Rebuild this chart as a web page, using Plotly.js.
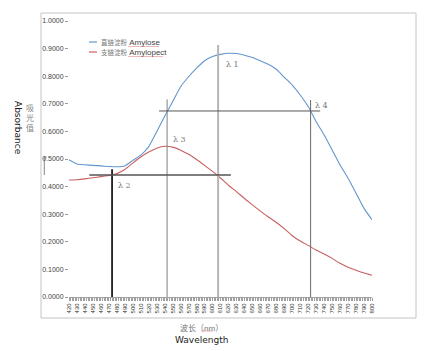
<!DOCTYPE html>
<html><head><meta charset="utf-8">
<script src="https://cdn.plot.ly/plotly-3.0.1.min.js"></script>
<style>html,body{margin:0;padding:0;background:#fff}</style>
</head><body>
<div id="chart" style="width:444px;height:351px"></div>
<script>
const wavelengths = [420,430,440,450,460,470,480,490,500,510,520,530,540,550,560,570,580,590,600,610,620,630,640,650,660,670,680,690,700,710,720,730,740,750,760,770,780,790,800];
const amylose = [0.497,0.482,0.479,0.477,0.475,0.473,0.472,0.475,0.495,0.514,0.545,0.599,0.655,0.708,0.762,0.798,0.829,0.856,0.871,0.879,0.883,0.882,0.876,0.868,0.856,0.843,0.825,0.796,0.768,0.732,0.690,0.635,0.587,0.533,0.478,0.430,0.376,0.321,0.280];
const amylopect = [0.424,0.425,0.428,0.432,0.436,0.440,0.447,0.462,0.485,0.507,0.525,0.539,0.546,0.543,0.532,0.517,0.498,0.477,0.455,0.431,0.405,0.382,0.357,0.334,0.311,0.290,0.270,0.248,0.222,0.203,0.187,0.170,0.156,0.140,0.122,0.108,0.097,0.087,0.079];
const seriesNames = ["直链淀粉 Amylose", "支链淀粉 Amylopect"];
const yTicks = [0,0.1,0.2,0.3,0.4,0.5,0.6,0.7,0.8,0.9,1.0];
// marker lines (lambda points)
const lambdaLabels = ["λ 1","λ 2","λ 3","λ 4"];
const lambdaWl = [607, 474, 543, 723];
const lambdaTop = [0.913, 0.463, 0.716, 0.714];
const hLineY = [0.442, 0.674];
const hLineFrom = [445.5, 533];
const hLineTo = [623, 735];

const L = 69, R = 372, T = 21, B = 297;
const px = p => (p - L) / (R - L);
const py = p => (B - p) / (B - T);

const traces = [
  {x: wavelengths, y: amylose, name: seriesNames[0], mode: 'lines', line: {color: '#6396cc', width: 1.1, shape: 'spline', smoothing: 0.5}, showlegend: false, hoverinfo: 'skip'},
  {x: wavelengths, y: amylopect, name: seriesNames[1], mode: 'lines', line: {color: '#c95f5f', width: 1.1, shape: 'spline', smoothing: 0.5}, showlegend: false, hoverinfo: 'skip'}
];

const vColors = ['#b5b5b5', '#000000', '#808080', '#6a6a6a'];
const vWidths = [2, 1.6, 1, 1];
const shapes = [];
// outer border
shapes.push({type:'rect', xref:'paper', yref:'paper', x0:px(41), x1:px(416), y0:py(318), y1:py(13), line:{color:'#c4c4c4', width:1}, layer:'below'});
for (let i = 0; i < lambdaWl.length; i++) {
  shapes.push({type:'line', xref:'x', yref:'y', x0:lambdaWl[i], x1:lambdaWl[i], y0:0, y1:lambdaTop[i], line:{color:vColors[i], width:vWidths[i]}});
}
const hColors = ['#555555', '#555555'];
const hWidths = [1.5, 1];
for (let i = 0; i < hLineY.length; i++) {
  shapes.push({type:'line', xref:'x', yref:'y', x0:hLineFrom[i], x1:hLineTo[i], y0:hLineY[i], y1:hLineY[i], line:{color:hColors[i], width:hWidths[i]}});
}
// legend sample lines
shapes.push({type:'line', xref:'paper', yref:'paper', x0:px(89), x1:px(97), y0:py(42), y1:py(42), line:{color:'#6396cc', width:1.2}});
shapes.push({type:'line', xref:'paper', yref:'paper', x0:px(89), x1:px(97), y0:py(52), y1:py(52), line:{color:'#c95f5f', width:1.2}});
// spell-check underlines
shapes.push({type:'line', xref:'paper', yref:'paper', x0:px(128), x1:px(159), y0:py(46.5), y1:py(46.5), line:{color:'#e8a8a8', width:0.8}});
shapes.push({type:'line', xref:'paper', yref:'paper', x0:px(128), x1:px(163), y0:py(56.5), y1:py(56.5), line:{color:'#e8a8a8', width:0.8}});
shapes.push({type:'line', xref:'paper', yref:'paper', x0:px(201), x1:px(213), y0:py(331), y1:py(331), line:{color:'#e8a8a8', width:0.8}});
// stray mark
shapes.push({type:'path', xref:'paper', yref:'paper', path:`M ${px(46.5)} ${py(157)} L ${px(44.3)} ${py(157)} L ${px(44.3)} ${py(175)}`, line:{color:'#666', width:0.8}});

const lblPos = [[224, 64], [116, 185], [171, 139], [313, 105]];
const annotations = [];
for (let i = 0; i < lambdaLabels.length; i++) {
  annotations.push({xref:'paper', yref:'paper', x:px(lblPos[i][0]), y:py(lblPos[i][1]), xanchor:'left', yanchor:'middle', showarrow:false, text:lambdaLabels[i], font:{family:'DejaVu Serif', size:8, color:'#777'}});
}
const cn = 'font-family:Noto Sans CJK SC;font-size:6.5px;fill:#777';
annotations.push({xref:'paper', yref:'paper', x:px(99), y:py(42), xanchor:'left', yanchor:'middle', showarrow:false,
  text:`<span style="${cn}">直链淀粉</span> Amylose`, font:{family:'Liberation Sans', size:8, color:'#444'}});
annotations.push({xref:'paper', yref:'paper', x:px(99), y:py(52), xanchor:'left', yanchor:'middle', showarrow:false,
  text:`<span style="${cn}">支链淀粉</span> Amylopect`, font:{family:'Liberation Sans', size:8, color:'#444'}});
// axis titles
annotations.push({xref:'paper', yref:'paper', x:px(201), y:py(327), xanchor:'center', yanchor:'middle', showarrow:false,
  text:'波长（<span style="font-family:Liberation Sans">nm</span>）', font:{family:'Noto Sans CJK SC', size:8, color:'#777'}});
annotations.push({xref:'paper', yref:'paper', x:px(201), y:py(340), xanchor:'center', yanchor:'middle', showarrow:false,
  text:'Wavelength', font:{family:'DejaVu Sans', size:9, color:'#222'}});
annotations.push({xref:'paper', yref:'paper', x:px(18), y:py(99), xanchor:'center', yanchor:'top', textangle:90, showarrow:false,
  text:'Absorbance', font:{family:'DejaVu Sans', size:9, color:'#222'}});
const cnChars = ['吸', '光', '值'];
const cnY = [107, 117, 127];
for (let i = 0; i < cnChars.length; i++) {
  annotations.push({xref:'paper', yref:'paper', x:px(30), y:py(cnY[i]), xanchor:'center', yanchor:'middle', showarrow:false,
    text:cnChars[i], font:{family:'Noto Sans CJK SC', size:8, color:'#888'}});
}

const layout = {
  width: 444, height: 351,
  margin: {l: L, r: 444 - R, t: T, b: 351 - B},
  paper_bgcolor: '#fff', plot_bgcolor: '#fff',
  showlegend: false,
  xaxis: {range: [420, 800], tickmode: 'array', tickvals: wavelengths, ticktext: wavelengths.map(String),
    tickangle: -90, tickfont: {family: 'Liberation Sans', size: 6, color: '#333'},
    ticks: 'outside', ticklen: 3, tickcolor: '#a0a0a0', tickwidth: 1,
    minor: {dtick: 2, ticks: 'outside', ticklen: 3, tickcolor: '#a0a0a0', tickwidth: 1},
    showline: true, linecolor: '#a0a0a0', linewidth: 1, showgrid: false, zeroline: false, fixedrange: true},
  yaxis: {range: [0, 1], tickmode: 'array', tickvals: yTicks, ticktext: yTicks.map(v => v.toFixed(4)),
    tickfont: {family: 'Liberation Sans', size: 7, color: '#444'},
    ticks: 'outside', ticklen: 3, tickcolor: '#999', showline: false, showgrid: false, zeroline: false, fixedrange: true},
  shapes: shapes,
  annotations: annotations
};
Plotly.newPlot('chart', traces, layout, {staticPlot: true, displayModeBar: false});
</script>
</body></html>
